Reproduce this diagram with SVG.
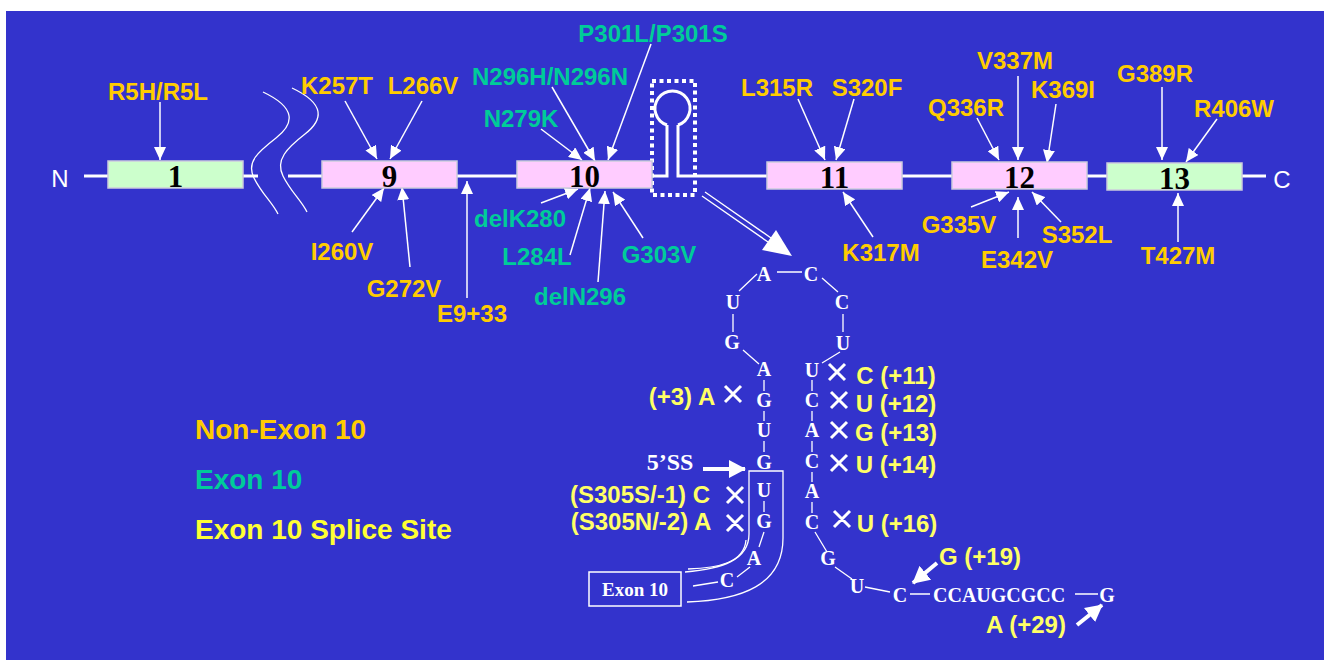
<svg xmlns="http://www.w3.org/2000/svg" width="1324" height="660" viewBox="0 0 1324 660">
<defs>
<marker id="ah" markerUnits="userSpaceOnUse" markerWidth="14" markerHeight="12" refX="13" refY="6" orient="auto"><path d="M0,0 L13,6 L0,12 Z" fill="#fff"/></marker>
<marker id="ahb" markerUnits="userSpaceOnUse" markerWidth="18" markerHeight="18" refX="16" refY="9" orient="auto"><path d="M0,0 L17,9 L0,18 Z" fill="#fff"/></marker>
<style>
.lbl{font-family:"Liberation Sans",Arial,sans-serif;font-weight:bold;font-size:24px;text-anchor:middle}
.or{fill:#FFCC00}
.tl{fill:#00CC99}
.yl{fill:#FFFF66}
.leg{font-family:"Liberation Sans",Arial,sans-serif;font-weight:bold;font-size:28px}
.nt{font-family:"Liberation Serif","Times New Roman",serif;font-weight:bold;font-size:20px;fill:#fff;text-anchor:middle}
.ex{font-family:"Liberation Serif","Times New Roman",serif;font-weight:bold;font-size:31px;fill:#000;text-anchor:middle}
.nc{font-family:"Liberation Sans",Arial,sans-serif;font-size:24px;fill:#fff;text-anchor:middle}
.box{stroke:#ccd;stroke-width:1.5}
.pk{fill:#FFCCFF}
.gr{fill:#CCFFCC}
.ar{stroke:#fff;stroke-width:1.5;fill:none;marker-end:url(#ah)}
.arb{stroke:#fff;stroke-width:4;fill:none;marker-end:url(#ahb)}
.ln{stroke:#fff;stroke-width:3;fill:none}
.tn{stroke:#fff;stroke-width:1.3;fill:none}
.x{stroke:#fff;stroke-width:3;fill:none}
</style>
</defs>
<rect x="0" y="0" width="1324" height="660" fill="#fff"/>
<rect x="6" y="11" width="1318" height="649" fill="#3333CC"/>

<g id="connectors">
<path class="ln" d="M84,176 H108 M243,176 H258 M288,176 H322 M457,176 H517 M652,176 H667 V125 M678,125 V176 H767 M902,176 H952 M1087,176 H1107 M1242,176 H1266"/>
<path class="ln" d="M667,125 A17.5,17.5 0 1 1 678,125"/>
<path class="tn" stroke-width="2" d="M263,92 C297,108 294,124 276,138 C258,152 246,162 254,178 C262,194 272,202 278,214"/>
<path class="tn" stroke-width="2" d="M292,88 C326,104 323,120 305,134 C287,148 275,160 283,176 C291,192 301,200 307,212"/>
<rect x="652" y="81" width="43" height="114" fill="none" stroke="#fff" stroke-width="4" stroke-dasharray="4 3.5"/>
<path stroke="#fff" stroke-width="1.4" fill="none" d="M702,196 L768,242 M705,192 L771,238"/>
<path d="M792,256 L762,250 L776,230 Z" fill="#fff"/>
<line class="ar" x1="160" y1="102" x2="160" y2="160"/>
<line class="ar" x1="345" y1="101" x2="377" y2="159"/>
<line class="ar" x1="422" y1="101" x2="390" y2="159"/>
<line class="ar" x1="352" y1="232" x2="384" y2="188"/>
<line class="ar" x1="410" y1="267" x2="402" y2="187"/>
<line class="ar" x1="467" y1="298" x2="467" y2="181"/>
<line class="ar" x1="651" y1="44" x2="608" y2="160"/>
<line class="ar" x1="552" y1="87" x2="595" y2="161"/>
<line class="ar" x1="541" y1="129" x2="582" y2="160"/>
<line class="ar" x1="541" y1="203" x2="578" y2="189"/>
<line class="ar" x1="570" y1="255" x2="590" y2="188"/>
<line class="ar" x1="598" y1="282" x2="605" y2="191"/>
<line class="ar" x1="643" y1="238" x2="613" y2="192"/>
<line class="ar" x1="798" y1="99" x2="825" y2="160"/>
<line class="ar" x1="854" y1="99" x2="836" y2="160"/>
<line class="ar" x1="873" y1="237" x2="843" y2="192"/>
<line class="ar" x1="977" y1="118" x2="999" y2="160"/>
<line class="ar" x1="1018" y1="76" x2="1018" y2="160"/>
<line class="ar" x1="1056" y1="104" x2="1047" y2="163"/>
<line class="ar" x1="971" y1="207" x2="1009" y2="192"/>
<line class="ar" x1="1018" y1="238" x2="1018" y2="197"/>
<line class="ar" x1="1061" y1="222" x2="1032" y2="192"/>
<line class="ar" x1="1162" y1="87" x2="1162" y2="160"/>
<line class="ar" x1="1217" y1="119" x2="1186" y2="162"/>
<line class="ar" x1="1178" y1="242" x2="1178" y2="193"/>
<path class="tn" d="M777,272 H802 M739,291 L757,274 M822,278 L838,292 M733,314 V332 M843,314 V332 M743,350 L759,364 M840,352 L822,363 M764,380 V391 M764,411 V421 M764,441 V452 M812,380 V391 M812,411 V421 M812,441 V452 M812,472 V482 M812,502 V513 M764,501 V512 M764,532 L759,547 M750,567 L737,577 M718,582 L693,586 M815,532 L827,552 M835,567 L852,579 M865,587 L890,592 M910,594 H930 M1075,594 H1098"/>
<path class="tn" stroke-width="1.6" d="M749,534 V471 H783 V538 C783,585 742,600 687,602"/>
<path class="tn" stroke-width="1.6" d="M749,534 C749,560 722,569 685,572"/>
<path class="tn" stroke-width="1.6" d="M746,540 C744,563 718,568 688,569"/>
<path class="x" d="M725,386 L741,402 M741,386 L725,402 M829,364 L845,380 M845,364 L829,380 M831,392 L847,408 M847,392 L831,408 M831,422 L847,438 M847,422 L831,438 M831,455 L847,471 M847,455 L831,471 M834,511 L850,527 M850,511 L834,527 M727,487 L743,503 M743,487 L727,503 M727,515 L743,531 M743,515 L727,531"/>
<line class="arb" x1="703" y1="469" x2="745" y2="469"/>
<line class="arb" x1="937" y1="563" x2="913" y2="583"/>
<line class="arb" x1="1077" y1="625" x2="1102" y2="605"/>
</g>

<g id="terminals">
<text class="nc" x="60" y="187">N</text>
<text class="nc" x="1282" y="188">C</text>
</g>

<g id="exon1"><rect class="box gr" x="108" y="161" width="135" height="27"/><text class="ex" x="175.5" y="187">1</text></g>
<g id="exon9"><rect class="box pk" x="322" y="161" width="135" height="27"/><text class="ex" x="389.5" y="187">9</text></g>
<g id="exon10"><rect class="box pk" x="517" y="161" width="135" height="27"/><text class="ex" x="584.5" y="187">10</text></g>
<g id="exon11"><rect class="box pk" x="767" y="162" width="135" height="27"/><text class="ex" x="834.5" y="188">11</text></g>
<g id="exon12"><rect class="box pk" x="952" y="162" width="135" height="27"/><text class="ex" x="1019.5" y="188">12</text></g>
<g id="exon13"><rect class="box gr" x="1107" y="163" width="135" height="27"/><text class="ex" x="1174.5" y="189">13</text></g>

<g id="mut-nonexon10">
<text class="lbl or" x="158" y="100">R5H/R5L</text>
<text class="lbl or" x="337" y="94">K257T</text>
<text class="lbl or" x="423" y="94">L266V</text>
<text class="lbl or" x="342" y="260">I260V</text>
<text class="lbl or" x="404" y="297">G272V</text>
<text class="lbl or" x="472" y="322">E9+33</text>
<text class="lbl or" x="777" y="96">L315R</text>
<text class="lbl or" x="867" y="96">S320F</text>
<text class="lbl or" x="881" y="261">K317M</text>
<text class="lbl or" x="966" y="116">Q336R</text>
<text class="lbl or" x="1015" y="69">V337M</text>
<text class="lbl or" x="1063" y="98">K369I</text>
<text class="lbl or" x="959" y="233">G335V</text>
<text class="lbl or" x="1017" y="268">E342V</text>
<text class="lbl or" x="1077" y="243">S352L</text>
<text class="lbl or" x="1155" y="82">G389R</text>
<text class="lbl or" x="1234" y="117">R406W</text>
<text class="lbl or" x="1178" y="264">T427M</text>
</g>

<g id="mut-exon10">
<text class="lbl tl" x="653" y="42">P301L/P301S</text>
<text class="lbl tl" x="550" y="85">N296H/N296N</text>
<text class="lbl tl" x="521" y="127">N279K</text>
<text class="lbl tl" x="520" y="227">delK280</text>
<text class="lbl tl" x="537" y="265">L284L</text>
<text class="lbl tl" x="580" y="305">delN296</text>
<text class="lbl tl" x="659" y="263">G303V</text>
</g>

<g id="legend">
<text class="leg or" x="195" y="439">Non-Exon 10</text>
<text class="leg tl" x="195" y="489">Exon 10</text>
<text class="leg" fill="#FFFF33" x="195" y="539">Exon 10 Splice Site</text>
</g>

<g id="stemloop">
<text class="nt" x="764" y="281">A</text>
<text class="nt" x="811" y="281">C</text>
<text class="nt" x="733" y="309">U</text>
<text class="nt" x="842" y="309">C</text>
<text class="nt" x="732" y="349">G</text>
<text class="nt" x="843" y="350">U</text>
<text class="nt" x="764" y="376">A</text>
<text class="nt" x="764" y="407">G</text>
<text class="nt" x="764" y="437">U</text>
<text class="nt" x="764" y="469">G</text>
<text class="nt" x="764" y="497">U</text>
<text class="nt" x="764" y="528">G</text>
<text class="nt" x="754" y="565">A</text>
<text class="nt" x="727" y="587">C</text>
<text class="nt" x="812" y="377">U</text>
<text class="nt" x="812" y="407">C</text>
<text class="nt" x="812" y="437">A</text>
<text class="nt" x="812" y="468">C</text>
<text class="nt" x="812" y="498">A</text>
<text class="nt" x="812" y="529">C</text>
<text class="nt" x="828" y="565">G</text>
<text class="nt" x="857" y="593">U</text>
<text class="nt" x="900" y="602">C</text>
<text class="nt" x="933" y="602" style="text-anchor:start">CCAUGCGCC</text>
<text class="nt" x="1107" y="602">G</text>
</g>

<g id="splice-labels">
<text class="nt" x="670" y="470" style="font-size:24px">5’SS</text>
<text class="lbl yl" x="682" y="405">(+3) A</text>
<text class="lbl yl" x="640" y="503">(S305S/-1) C</text>
<text class="lbl yl" x="641" y="530">(S305N/-2) A</text>
<text class="lbl yl" x="896" y="384">C (+11)</text>
<text class="lbl yl" x="896" y="412">U (+12)</text>
<text class="lbl yl" x="896" y="441">G (+13)</text>
<text class="lbl yl" x="896" y="473">U (+14)</text>
<text class="lbl yl" x="897" y="532">U (+16)</text>
<text class="lbl yl" x="980" y="565">G (+19)</text>
<text class="lbl yl" x="1026" y="633">A (+29)</text>
</g>

<g id="exon10-box">
<rect x="589" y="572" width="92" height="34" fill="none" stroke="#fff" stroke-width="1.5"/>
<text class="nt" x="635" y="596" style="font-size:19px">Exon 10</text>
</g>
</svg>
